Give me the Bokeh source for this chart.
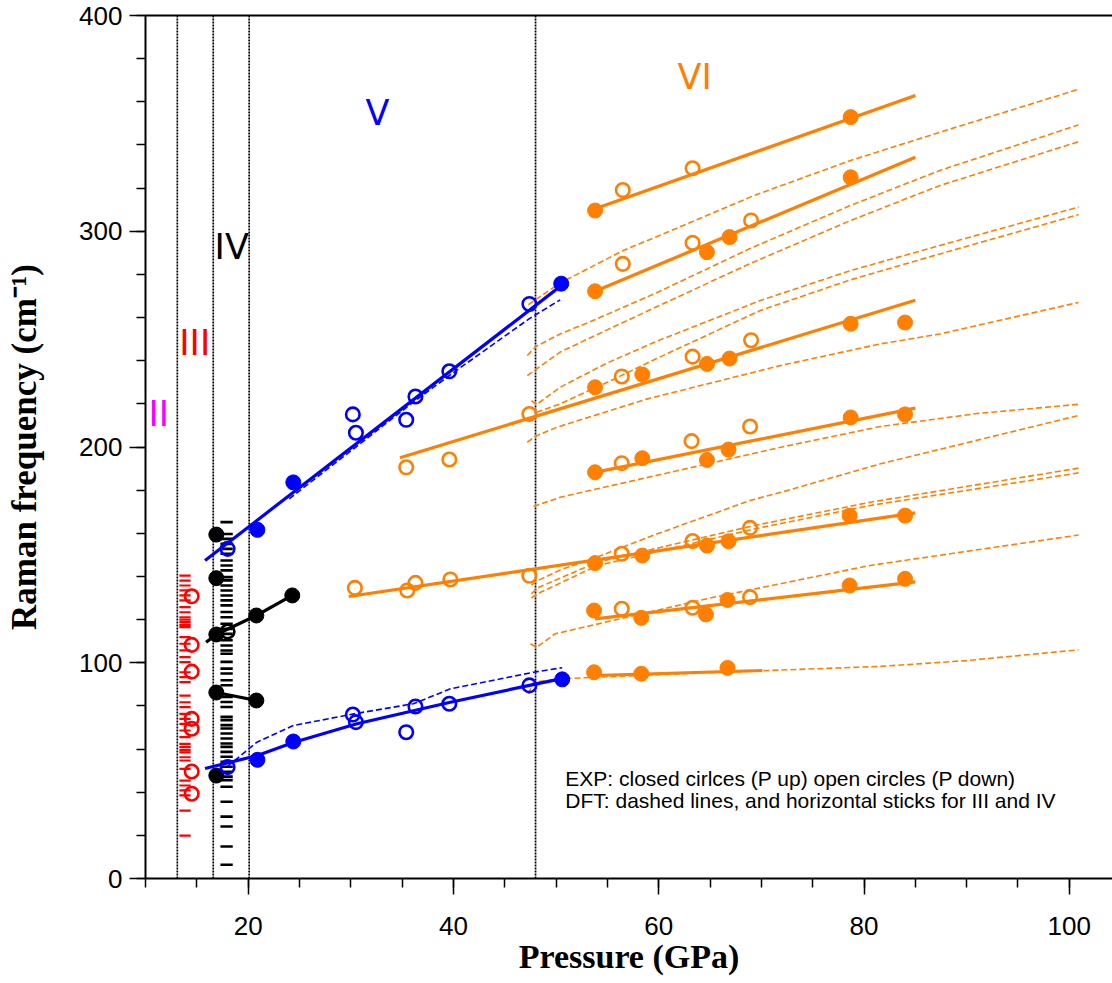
from bokeh.plotting import figure
from bokeh.models import Range1d, LinearAxis, FixedTicker, Label
from bokeh.embed import file_html
from bokeh.resources import INLINE

# ---------------- data ----------------
phase_bounds = [13.1, 16.6, 20.1, 48.0]

# phase III (red)
iii_down_p = [14.5, 14.5, 14.5, 14.5, 14.5, 14.5, 14.5]
iii_down_f = [130.8, 108.3, 95.9, 74.0, 69.4, 49.6, 39.3]
iii_dft_f = [140.4, 138.1, 135.8, 133.5, 131.2, 128.9, 125.8, 123.4, 121.1, 120.0,
             118.8, 117.6, 116.5, 111.9, 108.8, 105.7, 102.6, 100.3, 95.6, 93.3,
             91.0, 84.8, 81.7, 79.4, 76.3, 74.0, 71.7, 68.6, 65.5, 62.4, 60.9,
             59.5, 58.5, 56.2, 54.7, 50.8, 45.4, 43.1, 40.8, 38.5, 31.5, 19.9]

# phase IV (black)
iv_up_p = [16.9, 16.9, 16.9, 16.9, 16.9, 20.8, 20.8, 24.3]
iv_up_f = [159.4, 139.2, 113.1, 86.2, 47.7, 121.9, 82.5, 131.2]
iv_down_p = [18.0]
iv_down_f = [114.5]
iv_fit1_p = [15.9, 16.9, 20.8, 24.3]
iv_fit1_f = [109.5, 113.1, 121.9, 131.2]
iv_fit2_p = [16.9, 20.8]
iv_fit2_f = [86.2, 82.5]
iv_dft_f = [165.2, 159.7, 157.4, 155.1, 152.8, 150.5, 147.4, 145.1, 142.8, 139.7,
            138.2, 135.8, 133.5, 131.2, 128.9, 126.6, 123.5, 121.1, 118.1, 115.7,
            113.4, 110.4, 108.0, 105.7, 104.2, 100.4, 97.3, 95.0, 91.9, 89.6,
            84.2, 81.8, 79.5, 74.9, 73.4, 71.1, 69.5, 67.2, 64.9, 62.6, 61.0,
            58.7, 56.4, 54.1, 51.8, 49.5, 47.2, 45.6, 42.5, 35.6, 28.7, 24.1,
            14.8, 6.4]

# phase V (blue)
v_up_p = [20.9, 24.4, 50.5, 20.9, 24.4, 50.6]
v_up_f = [161.6, 183.6, 275.7, 55.0, 63.5, 92.3]
v_down_p = [18.0, 30.2, 30.5, 35.4, 36.3, 39.6, 47.4,
            18.0, 30.2, 30.5, 35.4, 36.3, 39.6, 47.4]
v_down_f = [152.8, 215.1, 206.6, 212.6, 223.4, 235.1, 266.3,
            51.6, 76.0, 72.5, 67.8, 79.7, 81.0, 89.5]
v_fit_hi_p = [15.8, 51.1]
v_fit_hi_f = [147.4, 277.0]
v_fit_lo_p = [15.8, 20.9, 24.4, 30.6, 39.7, 47.4, 50.9]
v_fit_lo_f = [51.0, 57.0, 63.0, 71.7, 81.7, 89.5, 93.0]
v_dft_hi_p = [24.0, 26.7, 30.5, 36.0, 40.0, 47.4, 50.4]
v_dft_hi_f = [176.0, 186.0, 200.0, 220.5, 234.5, 259.5, 268.2]
v_dft_lo_p = [18.0, 20.8, 24.4, 30.3, 36.1, 39.7, 47.8, 50.6]
v_dft_lo_f = [52.0, 63.0, 70.9, 76.3, 81.0, 87.9, 95.6, 97.7]

# phase V orange branch + phase VI (orange)
vi_up_p = [53.8, 78.7, 53.8, 64.7, 66.9, 78.7, 53.8, 58.4, 64.7, 66.9, 78.7, 84.0,
           53.8, 58.4, 64.7, 66.8, 78.7, 84.0, 53.8, 58.4, 64.7, 66.8, 78.6, 84.0,
           53.7, 58.3, 64.6, 66.7, 78.6, 84.0, 53.7, 58.3, 66.7]
vi_up_f = [309.6, 352.9, 272.2, 290.3, 297.3, 325.0, 227.7, 233.6, 238.5, 241.0, 257.1, 257.7,
           188.3, 194.8, 194.0, 198.8, 213.7, 215.1, 146.2, 149.7, 154.3, 156.3, 168.2, 168.2,
           124.2, 120.8, 122.4, 129.1, 135.8, 138.9, 95.6, 94.9, 97.6]
vi_down_p = [56.5, 63.3, 56.5, 63.3, 69.0, 47.4, 56.4, 63.3, 69.0, 35.4, 39.6,
             56.4, 63.2, 68.9, 30.4, 35.5, 36.3, 39.7, 47.4, 56.4, 63.3, 68.9,
             56.4, 63.3, 68.9]
vi_down_f = [319.1, 329.2, 284.9, 294.6, 305.0, 215.3, 232.7, 241.9, 249.5, 190.6, 194.2,
             192.5, 202.7, 209.5, 134.7, 133.5, 137.0, 138.6, 140.3, 150.5, 156.4, 162.5,
             125.0, 125.5, 130.4]

vi_fit1_p = [53.8, 85.0]; vi_fit1_f = [310.4, 362.9]
vi_fit2_p = [53.8, 85.0]; vi_fit2_f = [272.2, 334.3]
vi_fit3_p = [34.8, 85.0]; vi_fit3_f = [195.0, 268.0]
vi_fit4_p = [54.0, 85.0]; vi_fit4_f = [188.5, 218.0]
vi_fit5_p = [29.8, 85.0]; vi_fit5_f = [130.7, 169.5]
vi_fit6_p = [53.8, 85.0]; vi_fit6_f = [120.3, 137.5]
vi_fit7_p = [53.7, 70.1]; vi_fit7_f = [94.1, 96.4]

dft_a_p = [47.3, 50.4, 56.5, 59.8, 69.3, 78.7, 87.4, 100.9]
dft_a_f = [266.0, 276.0, 291.0, 297.5, 316.6, 332.8, 345.9, 365.8]
dft_b_p = [47.2, 48.0, 50.4, 53.3, 59.8, 68.9, 78.7, 87.4, 100.9]
dft_b_f = [242.4, 246.5, 252.4, 258.0, 271.5, 292.0, 312.0, 328.2, 349.3]
dft_c_p = [47.2, 48.1, 50.4, 53.5, 59.8, 68.9, 78.7, 87.4, 100.9]
dft_c_f = [233.1, 236.2, 244.0, 251.0, 265.0, 285.0, 305.0, 321.2, 341.5]
dft_d_p = [47.6, 48.1, 50.4, 55.0, 59.8, 69.9, 78.7, 87.4, 100.9]
dft_d_f = [221.5, 219.7, 227.7, 239.0, 249.0, 267.9, 281.8, 293.4, 311.2]
dft_e_p = [48.1, 50.4, 55.0, 59.8, 69.9, 78.7, 87.4, 100.9]
dft_e_f = [216.1, 220.0, 230.0, 241.0, 263.3, 277.5, 289.5, 307.7]
dft_f_p = [47.2, 48.0, 50.1, 58.9, 71.9, 81.6, 87.4, 100.9]
dft_f_f = [202.2, 205.0, 209.2, 222.3, 237.8, 247.8, 252.4, 267.0]
dft_g_p = [47.8, 50.4, 71.9, 81.6, 91.0, 100.9]
dft_g_f = [172.4, 176.7, 199.9, 209.5, 215.5, 219.8]
dft_h_p = [47.6, 48.2, 50.4, 54.0, 60.0, 68.9, 71.9, 81.6, 100.9]
dft_h_f = [136.0, 138.0, 143.0, 149.0, 160.0, 175.2, 179.0, 192.2, 214.6]
dft_i_p = [47.6, 48.2, 54.0, 69.3, 80.6, 100.9]
dft_i_f = [132.0, 134.7, 146.6, 163.6, 174.4, 190.2]
dft_j_p = [47.6, 48.2, 54.0, 69.3, 80.6, 100.9]
dft_j_f = [130.0, 132.0, 145.0, 162.0, 172.9, 188.0]
dft_k_p = [47.5, 48.1, 49.9, 65.0, 80.6, 100.9]
dft_k_f = [108.8, 107.2, 113.4, 130.0, 145.1, 159.2]
dft_l_p = [47.3, 47.8, 50.6, 60.0, 70.0, 81.6, 90.0, 100.9]
dft_l_f = [85.6, 91.0, 92.6, 94.5, 96.3, 98.3, 101.0, 106.0]

phase_names = ["II", "III", "IV", "V", "VI"]
phase_label_p = [11.3, 14.8, 18.4, 32.6, 63.5]
phase_label_f = [215.5, 248.4, 292.5, 355.0, 371.3]

note_lines = ["EXP: closed cirlces (P up) open circles (P down)",
              "DFT: dashed lines, and horizontal sticks for III and IV"]
note_p = [50.9, 50.9]
note_f = [46.5, 36.1]

x_title = "Pressure (GPa)"
y_title = "Raman frequency (cm\u207b\u00b9)"

# ---------------- style ----------------
BLUE = "#0000FF"
ORANGE = "#FF8000"
RED = "#FF0000"
MAG = "#FF00FF"
BLACK = "#000000"
phase_colors = [MAG, RED, BLACK, BLUE, ORANGE]
TICK_FONT = "Liberation Sans"

p = figure(width=1112, height=983, x_range=Range1d(10, 104.21), y_range=Range1d(0, 400),
           output_backend="svg", toolbar_location=None,
           min_border_left=145, min_border_right=0, min_border_top=15, min_border_bottom=105)
p.outline_line_color = None
p.xgrid.visible = False
p.ygrid.visible = False
p.background_fill_color = "white"

p.xaxis.ticker = FixedTicker(ticks=[20, 40, 60, 80, 100], minor_ticks=list(range(10, 105, 5)))
p.yaxis.ticker = FixedTicker(ticks=[0, 100, 200, 300, 400], minor_ticks=list(range(0, 401, 20)))
for ax in (p.xaxis[0], p.yaxis[0]):
    ax.axis_line_width = 2
    ax.axis_line_color = BLACK
    ax.major_tick_line_width = 1.5
    ax.minor_tick_line_width = 1.5
    ax.major_tick_in = 0
    ax.major_tick_out = 16
    ax.minor_tick_in = 0
    ax.minor_tick_out = 9
    ax.major_label_text_font = TICK_FONT
    ax.major_label_text_font_size = "26px"
    ax.major_label_text_color = BLACK
    ax.axis_label_text_font = "Liberation Serif"
    ax.axis_label_text_font_style = "bold"
    ax.axis_label_text_font_size = "34px"
    ax.axis_label_text_color = BLACK
p.xaxis.axis_label = x_title
p.yaxis.axis_label = y_title
p.yaxis.axis_label_text_font_size = "35px"
p.xaxis.major_label_standoff = 22
p.xaxis.axis_label_standoff = 0
p.yaxis.major_label_standoff = 7
p.yaxis.axis_label_standoff = 32

top = LinearAxis(ticker=FixedTicker(ticks=[]), axis_line_width=2, major_tick_out=0,
                 minor_tick_out=0, major_label_text_font_size="0px", major_label_standoff=0)
p.add_layout(top, "above")

# phase boundaries
for b in phase_bounds:
    p.line([b, b], [0, 400], line_color=BLACK, line_width=1.7, line_dash="2 1")

# DFT sticks
p.segment(x0=[13.3] * len(iii_dft_f), x1=[14.4] * len(iii_dft_f), y0=iii_dft_f, y1=iii_dft_f,
          line_color=RED, line_width=2.2)
p.segment(x0=[17.3] * len(iv_dft_f), x1=[18.5] * len(iv_dft_f), y0=iv_dft_f, y1=iv_dft_f,
          line_color=BLACK, line_width=2.6)

# DFT dashed curves
dash = "6 3"
for xs, ys in [(dft_a_p, dft_a_f), (dft_b_p, dft_b_f), (dft_c_p, dft_c_f), (dft_d_p, dft_d_f),
               (dft_e_p, dft_e_f), (dft_f_p, dft_f_f), (dft_g_p, dft_g_f), (dft_h_p, dft_h_f),
               (dft_i_p, dft_i_f), (dft_j_p, dft_j_f), (dft_k_p, dft_k_f), (dft_l_p, dft_l_f)]:
    p.line(xs, ys, line_color=ORANGE, line_width=1.6, line_dash=dash)
p.line(v_dft_hi_p, v_dft_hi_f, line_color=BLUE, line_width=1.6, line_dash=dash)
p.line(v_dft_lo_p, v_dft_lo_f, line_color=BLUE, line_width=1.6, line_dash=dash)

# fits
FW = 3.2
p.line(v_fit_hi_p, v_fit_hi_f, line_color=BLUE, line_width=FW)
p.line(v_fit_lo_p, v_fit_lo_f, line_color=BLUE, line_width=FW)
p.line(iv_fit1_p, iv_fit1_f, line_color=BLACK, line_width=FW)
p.line(iv_fit2_p, iv_fit2_f, line_color=BLACK, line_width=FW)
for xs, ys in [(vi_fit1_p, vi_fit1_f), (vi_fit2_p, vi_fit2_f), (vi_fit3_p, vi_fit3_f),
               (vi_fit4_p, vi_fit4_f), (vi_fit5_p, vi_fit5_f), (vi_fit6_p, vi_fit6_f),
               (vi_fit7_p, vi_fit7_f)]:
    p.line(xs, ys, line_color=ORANGE, line_width=FW)

# points
FS = 15
OS = 13.5
OW = 2.6
p.scatter(iii_down_p, iii_down_f, size=OS, fill_color=None, line_color=RED, line_width=OW)
p.scatter(iv_up_p, iv_up_f, size=FS, fill_color=BLACK, line_color=BLACK)
p.scatter(iv_down_p, iv_down_f, size=OS, fill_color=None, line_color=BLACK, line_width=OW)
p.scatter(v_up_p, v_up_f, size=FS, fill_color=BLUE, line_color=BLUE)
p.scatter(v_down_p, v_down_f, size=OS, fill_color=None, line_color=BLUE, line_width=OW)
p.scatter(vi_up_p, vi_up_f, size=FS, fill_color=ORANGE, line_color=ORANGE)
p.scatter(vi_down_p, vi_down_f, size=OS, fill_color=None, line_color=ORANGE, line_width=OW)

# phase labels
for name, x, y, c in zip(phase_names, phase_label_p, phase_label_f, phase_colors):
    p.add_layout(Label(x=x, y=y, text=name, text_color=c, text_font="DejaVu Sans",
                       text_font_size="35px", text_align="center", text_baseline="middle"))

# note
for t, x, y in zip(note_lines, note_p, note_f):
    p.add_layout(Label(x=x, y=y, text=t, text_color=BLACK, text_font="Liberation Sans",
                       text_font_size="21px", text_align="left", text_baseline="middle"))

open("out.html", "w").write(file_html(p, INLINE))
